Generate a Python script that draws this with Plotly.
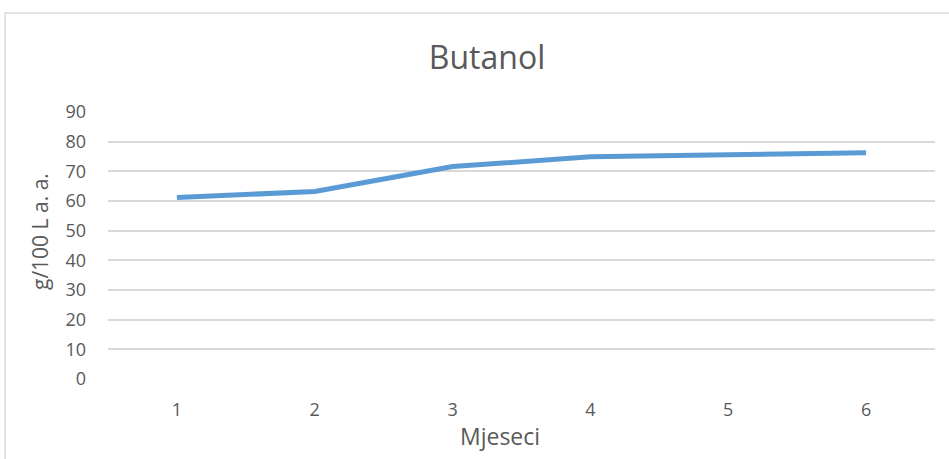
import plotly.graph_objects as go

months = [1, 2, 3, 4, 5, 6]
butanol = [61.2, 63.2, 71.6, 74.9, 75.6, 76.3]
y_ticks = [0, 10, 20, 30, 40, 50, 60, 70, 80, 90]

W, H = 949, 459
# target plot area in screen pixels (page body margin is removed below)
PL, PR, PT, PB = 108, 935, 112, 379
pw, ph = PR - PL, PB - PT

def px(x):
    return (x - PL) / pw

def py(y):
    return (PB - y) / ph

fig = go.Figure()
fig.add_trace(go.Scatter(x=months, y=butanol, mode="lines",
                         line=dict(color="#5B9BD5", width=5),
                         hoverinfo="x+y"))

font_fam = "Open Sans, Liberation Sans, sans-serif"
col = "#595959"
fig.update_layout(
    width=W, height=H,
    margin=dict(l=PL, r=W - PR, t=PT, b=H - PB),
    paper_bgcolor="white", plot_bgcolor="white",
    showlegend=False,
    font=dict(family=font_fam, color=col),
    title=dict(text="Butanol", x=487 / W, xanchor="center",
               y=1 - 58 / H, yanchor="middle",
               font=dict(size=32, color=col, family=font_fam)),
    xaxis=dict(range=[0.5, 6.5], tickvals=months, ticktext=[str(m) for m in months],
               showgrid=False, zeroline=False, showline=False, ticks="",
               tickfont=dict(size=18, color=col), ticklabelstandoff=18),
    yaxis=dict(range=[0, 90], tickvals=y_ticks, showgrid=True, gridcolor="#d9d9d9",
               gridwidth=1.5, zeroline=False, showline=False, ticks="",
               tickfont=dict(size=18, color=col), ticklabelstandoff=21),
)
fig.add_annotation(text="Mjeseci", xref="paper", yref="paper",
                   x=px(500), y=py(436), xanchor="center", yanchor="middle",
                   showarrow=False, font=dict(size=23, color=col))
fig.add_annotation(text="g/100 L a. a.", xref="paper", yref="paper",
                   x=px(40), y=py(232), xanchor="center", yanchor="middle",
                   textangle=-90, showarrow=False, font=dict(size=21, color=col))
fig.add_shape(type="rect", xref="paper", yref="paper",
              x0=px(5), x1=px(960), y0=py(13), y1=py(470),
              line=dict(color="#d9d9d9", width=1.5), fillcolor="rgba(0,0,0,0)", layer="below")
fig.write_html("out.html", config={"displayModeBar": False},
               post_script="document.body.style.margin='0';")
